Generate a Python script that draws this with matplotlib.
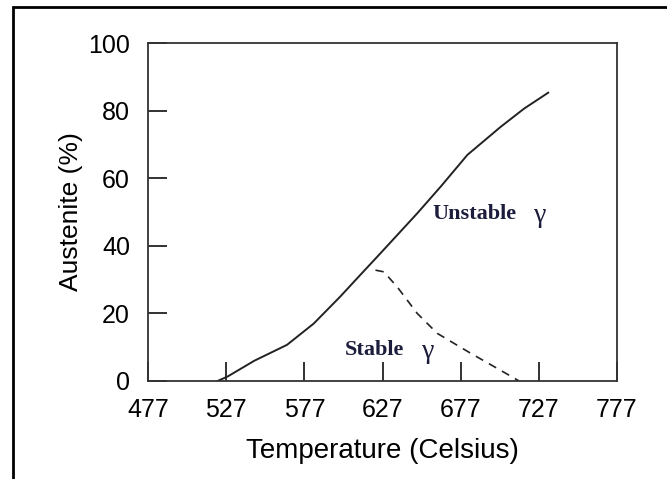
import matplotlib.pyplot as plt
from matplotlib.patches import Rectangle

plt.rcParams['font.family'] = ['Liberation Sans', 'DejaVu Sans']

# solid curve: total austenite
temp_total = [521.4, 527.8, 545, 565.9, 583, 600, 610.8, 625.7, 649.2, 664.2, 681.3, 702.6, 717.6, 733]
aust_total = [0, 1.3, 6, 10.7, 17, 25, 30.4, 37.8, 49.6, 57.5, 66.9, 75.2, 80.6, 85.3]

# dashed curve: stable austenite
temp_stable = [622.5, 627.8, 636.3, 649.2, 662, 683.4, 700.5, 714.4]
aust_stable = [32.8, 32.3, 27.9, 20.0, 14.1, 8.2, 3.7, 0]

xticks = [477, 527, 577, 627, 677, 727, 777]
yticks = [0, 20, 40, 60, 80, 100]

fig = plt.figure(figsize=(6.67, 4.79), dpi=100)
ax = fig.add_axes([0.222, 0.2046, 0.703, 0.7056])

ax.plot(temp_total, aust_total, color='#222222', linewidth=1.4)
ax.plot(temp_stable, aust_stable, color='#222222', linewidth=1.2, linestyle=(0, (5, 4)))

ax.set_xlim(477, 777)
ax.set_ylim(0, 100)
ax.set_xticks(xticks)
ax.set_yticks(yticks)
ax.tick_params(direction='in', length=14, width=1.3, colors='#222222', labelsize=18,
               labelcolor='black')
ax.tick_params(axis='y', pad=13)
ax.tick_params(axis='x', pad=12)
for s in ax.spines.values():
    s.set_color('#333333')
    s.set_linewidth(1.3)

ax.set_xlabel('Temperature (Celsius)', fontsize=20, labelpad=12)
ax.set_ylabel('Austenite (%)', fontsize=19, labelpad=4)

serif = dict(family='Liberation Serif', fontweight='bold', color='#1c1c3c', fontsize=16)
ax.text(659, 49.5, 'Unstable', ha='left', va='center', **serif)
ax.text(728, 49, 'γ', ha='center', va='center', family='Liberation Serif',
        color='#1c1c3c', fontsize=20)
ax.text(603, 9.2, 'Stable', ha='left', va='center', **serif)
ax.text(656, 8.7, 'γ', ha='center', va='center', family='Liberation Serif',
        color='#1c1c3c', fontsize=20)

# outer frame around the figure
fig.patches.append(Rectangle((0.019, -0.05), 1.1, 1.035, transform=fig.transFigure,
                             fill=False, edgecolor='black', linewidth=2))

fig.savefig('out.png', dpi=100)
